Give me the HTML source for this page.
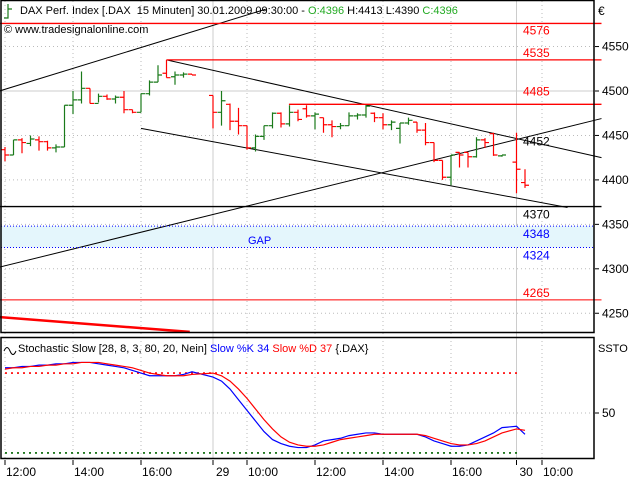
<!DOCTYPE html>
<html><head><meta charset="utf-8"><style>
body{margin:0;background:#fff}
svg{display:block;font-family:"Liberation Sans",sans-serif;font-size:11px}
</style></head><body>
<svg id="c" width="640" height="480" viewBox="0 0 640 480">
<rect x="0" y="0" width="640" height="480" fill="#fff"/>
<g id="grid"></g>
<rect x="0" y="226" width="594" height="21" fill="#e4f6fc" id="gapband"/>
<g id="ann"></g>
<g id="bars"></g>
<g id="stoch"></g>
<g id="axes"></g>
<rect x="1" y="0.5" width="593" height="332" fill="none" stroke="#000" stroke-width="1.5"/>
<rect x="1" y="337.5" width="593" height="121" fill="none" stroke="#000" stroke-width="1.5"/>
<g>
<path d="M4 18 H8 V4 M8 9 H12" stroke="#1a7a1a" stroke-width="1.2" fill="none"/>
<text x="20" y="14">DAX Perf. Index [.DAX&#160; 15 Minuten] 30.01.2009 09:30:00 - <tspan fill="#2a2">O:4396</tspan> H:4413 L:4390 <tspan fill="#2a2">C:4396</tspan></text>
<text x="4" y="33">© www.tradesignalonline.com</text>
<text x="598" y="15" font-size="12">€</text>
</g>
<g>
<path d="M4 351 q3 -7 6 0 t6 0" stroke="#000" fill="none"/>
<text x="18" y="352">Stochastic Slow [28, 8, 3, 80, 20, Nein] <tspan fill="#00f">Slow %K 34</tspan> <tspan fill="#f00">Slow %D 37</tspan> {.DAX}</text>
<text x="598" y="352">SSTO</text>
</g>
</svg>
<script>
// ---- data ----
const day28Open=[4434,4428,4445,4441,4445,4443,4436,4437,4484,4490,4503,4486,4494,4491,4493,4479,4476,4497,4510,4520,4516,4518,4519];
const day28High=[4437,4445,4447,4450,4449,4444,4440,4484,4500,4522,4503,4497,4496,4495,4500,4479,4497,4512,4529,4535,4522,4521,4519];
const day28Low =[4421,4428,4430,4438,4433,4433,4431,4437,4474,4486,4486,4487,4490,4486,4475,4475,4476,4495,4510,4515,4507,4515,4518];
const day28Close=[4428,4445,4442,4446,4443,4436,4437,4484,4490,4503,4486,4494,4491,4493,4479,4476,4497,4510,4518,4515,4518,4519,4518];
const day29Open=[4495,4476,4485,4466,4461,4436,4449,4461,4475,4463,4476,4480,4472,4470,4462,4460,4461,4472,4473,4475,4470,4462,4458,4464,4465,4456,4442,4422,4403,4431,4431,4426,4445,4452,4427];
const day29High=[4495,4500,4486,4481,4461,4451,4461,4476,4476,4484,4479,4484,4476,4470,4467,4464,4476,4475,4484,4476,4475,4467,4464,4470,4465,4464,4442,4422,4428,4431,4431,4448,4447,4453,4428];
const day29Low =[4458,4461,4456,4451,4434,4432,4445,4458,4459,4460,4466,4470,4457,4453,4448,4457,4461,4468,4470,4465,4457,4456,4441,4462,4453,4439,4420,4400,4394,4414,4414,4425,4436,4427,4426];
const day29Close=[4476,4489,4466,4461,4436,4449,4461,4475,4463,4476,4468,4472,4474,4462,4460,4461,4472,4473,4483,4470,4462,4465,4464,4467,4456,4442,4422,4403,4428,4428,4426,4445,4442,4428,4428];
const day30Open=[4420,4397];
const day30High=[4453,4412];
const day30Low=[4385,4391];
const day30Close=[4412,4394];
const day28K=[84,84,85,85,86,86,87,87,88,88,88,87,86,85,84,82,80,78,78,78,78,79,81];
const day28D=[83,84,84,85,85,86,86,87,87,88,88,88,87,86,85,84,82,80,79,78,78,78,79];
const day29K=[77,74,68,60,52,44,36,30,27,25,24,24,26,29,30,31,33,34,35,35,34,34,34,34,34,32,29,27,25,25,26,29,32,35,39];
const day29D=[80,78,74,68,61,53,45,38,32,28,26,25,25,26,28,30,31,32,33,34,34,34,34,34,34,33,31,29,27,26,26,27,29,32,35];
const day30K=[40,34];
const day30D=[38,37];
const priceTicks=[4550,4500,4450,4400,4350,4300,4250];
const timeTickLabels=["12:00","14:00","16:00","29","10:00","12:00","14:00","16:00","30","10:00"];
const timeTickDays=[28,28,28,29,29,29,29,29,30,30];
const timeTickMins=[720,840,960,540,600,720,840,960,555,600];
const levelValues=[4576,4535,4485,4452,4370,4348,4324,4265];
const levelLabels=["4576","4535","4485","4452","4370","4348","4324","4265"];

// ---- axes ----
const NS="http://www.w3.org/2000/svg";
const dayOrigin={28:-97,29:213,30:508};
function xT(day,min){return dayOrigin[day]+(min-540)/15*8.5;}
function yP(p){return 91+(4500-p)*0.889;}
function yS(v){return 413-(v-50)*1.33;}
function mk(tag,attrs,parent){const e=document.createElementNS(NS,tag);for(const k in attrs)e.setAttribute(k,attrs[k]);parent.appendChild(e);return e;}
const grid=document.getElementById('grid'),ann=document.getElementById('ann'),barsG=document.getElementById('bars'),st=document.getElementById('stoch'),axes=document.getElementById('axes');

const days=[[28,720,day28Open,day28High,day28Low,day28Close,day28K,day28D],[29,540,day29Open,day29High,day29Low,day29Close,day29K,day29D],[30,555,day30Open,day30High,day30Low,day30Close,day30K,day30D]];
const all=[];
days.forEach(d=>{for(let i=0;i<d[2].length;i++){all.push({x:xT(d[0],d[1]+15*i),o:d[2][i],h:d[3][i],l:d[4][i],c:d[5][i],k:d[6][i],dd:d[7][i]});}});

priceTicks.forEach(p=>{
  const y=yP(p);
  const g=mk('line',{x1:1,x2:594,y1:y,y2:y,stroke:p===4500?'#ccc':'#bbb','stroke-dasharray':p===4500?'':'1,3'},grid);
  
  
  const t=mk('line',{x1:595,x2:599,y1:y,y2:y,stroke:'#000'},axes);
  
  
  const tx=mk('text',{x:602,y:y+4,'font-size':12},axes);tx.textContent=String(p);
  
  
});
(function(){
  const y=yS(50);
  const g=mk('line',{x1:1,x2:594,y1:y,y2:y,stroke:'#bbb','stroke-dasharray':'1,3'},grid);
  
  
  const t=mk('line',{x1:595,x2:599,y1:y,y2:y,stroke:'#000'},axes);
  
  
  const tx=mk('text',{x:602,y:y+4,'font-size':12},axes);tx.textContent='50';
  
  
})();
timeTickLabels.forEach((lab,i)=>{
  const x=xT(timeTickDays[i],timeTickMins[i]);
  const isDay=(lab==="29"||lab==="30");
  const g=mk('line',{x1:x,x2:x,y1:1,y2:458,stroke:isDay?'#ccc':'#bbb','stroke-dasharray':isDay?'':'1,3'},grid);
  
  
  const t=mk('line',{x1:x,x2:x,y1:460,y2:465,stroke:'#000'},axes);
  
  
  const tx=mk('text',{x:x+(isDay?3:1),y:476,'font-size':12},axes);tx.textContent=lab;
  
  
});

function tline(d1,m1,p1,d2,m2,p2,color,w,name){
  const l=mk('line',{x1:xT(d1,m1),y1:yP(p1),x2:xT(d2,m2),y2:yP(p2),stroke:color,'stroke-width':w},ann);
  
  
}
tline(28,705,4499,28,1180,4592,'#000',1,'upper-rising-trendline');
tline(28,705,4301,30,705,4469,'#000',1,'lower-rising-trendline');
tline(28,1005,4535,30,705,4425,'#000',1,'upper-falling-trendline');
tline(28,960,4458,30,645,4369,'#000',1,'lower-falling-trendline');
tline(28,705,4576,30,705,4576,'#f00',1.3,'level-4576');
tline(28,1005,4535,30,705,4535,'#f00',1.3,'level-4535');
tline(29,674,4485,30,705,4485,'#f00',1.3,'level-4485');
tline(28,705,4370,30,705,4370,'#000',1.3,'level-4370');
tline(28,705,4265,30,705,4265,'#f00',1,'level-4265');
tline(28,705,4246,28,1046,4229,'#f00',2.5,'red-diagonal');
[4348,4324].forEach(p=>{const l=mk('line',{x1:1,x2:594,y1:yP(p),y2:yP(p),stroke:'#00f','stroke-dasharray':'1,2'},ann);
  
  });
const gb=document.getElementById('gapband');gb.setAttribute('y',yP(4348));gb.setAttribute('height',yP(4324)-yP(4348));
const gt=mk('text',{x:248,y:244,fill:'#00f'},ann);gt.textContent='GAP';


const levelColors=['#f00','#f00','#f00','#000','#000','#00f','#00f','#f00'];
const levelOff=[11,-3,-9,12,12,12,12,-3];
levelValues.forEach((v,i)=>{const t=mk('text',{x:523,y:yP(v)+levelOff[i],fill:levelColors[i],'font-size':12},ann);t.textContent=levelLabels[i];
  
  });

all.forEach(b=>{
  const col=b.c>=b.o?'#1a7a1a':'#f00';
  const g=mk('path',{d:`M${b.x} ${yP(b.h)} V${yP(b.l)} M${b.x-4} ${yP(b.o)} H${b.x} M${b.x} ${yP(b.c)} H${b.x+4}`,stroke:col,'stroke-width':1.2,fill:'none'},barsG);
  
  
});

[[80,'#f00','overbought-line'],[20,'#060','oversold-line']].forEach(a=>{
  const l=mk('line',{x1:5,x2:518,y1:yS(a[0]),y2:yS(a[0]),stroke:a[1],'stroke-width':1.6,'stroke-dasharray':'2,4'},st);
  
  
});
const pk=mk('polyline',{points:all.map(b=>b.x+','+yS(b.k)).join(' '),fill:'none',stroke:'#00f','stroke-width':1.2},st);


const pd=mk('polyline',{points:all.map(b=>b.x+','+yS(b.dd)).join(' '),fill:'none',stroke:'#f00','stroke-width':1.2},st);


</script>
</body></html>
